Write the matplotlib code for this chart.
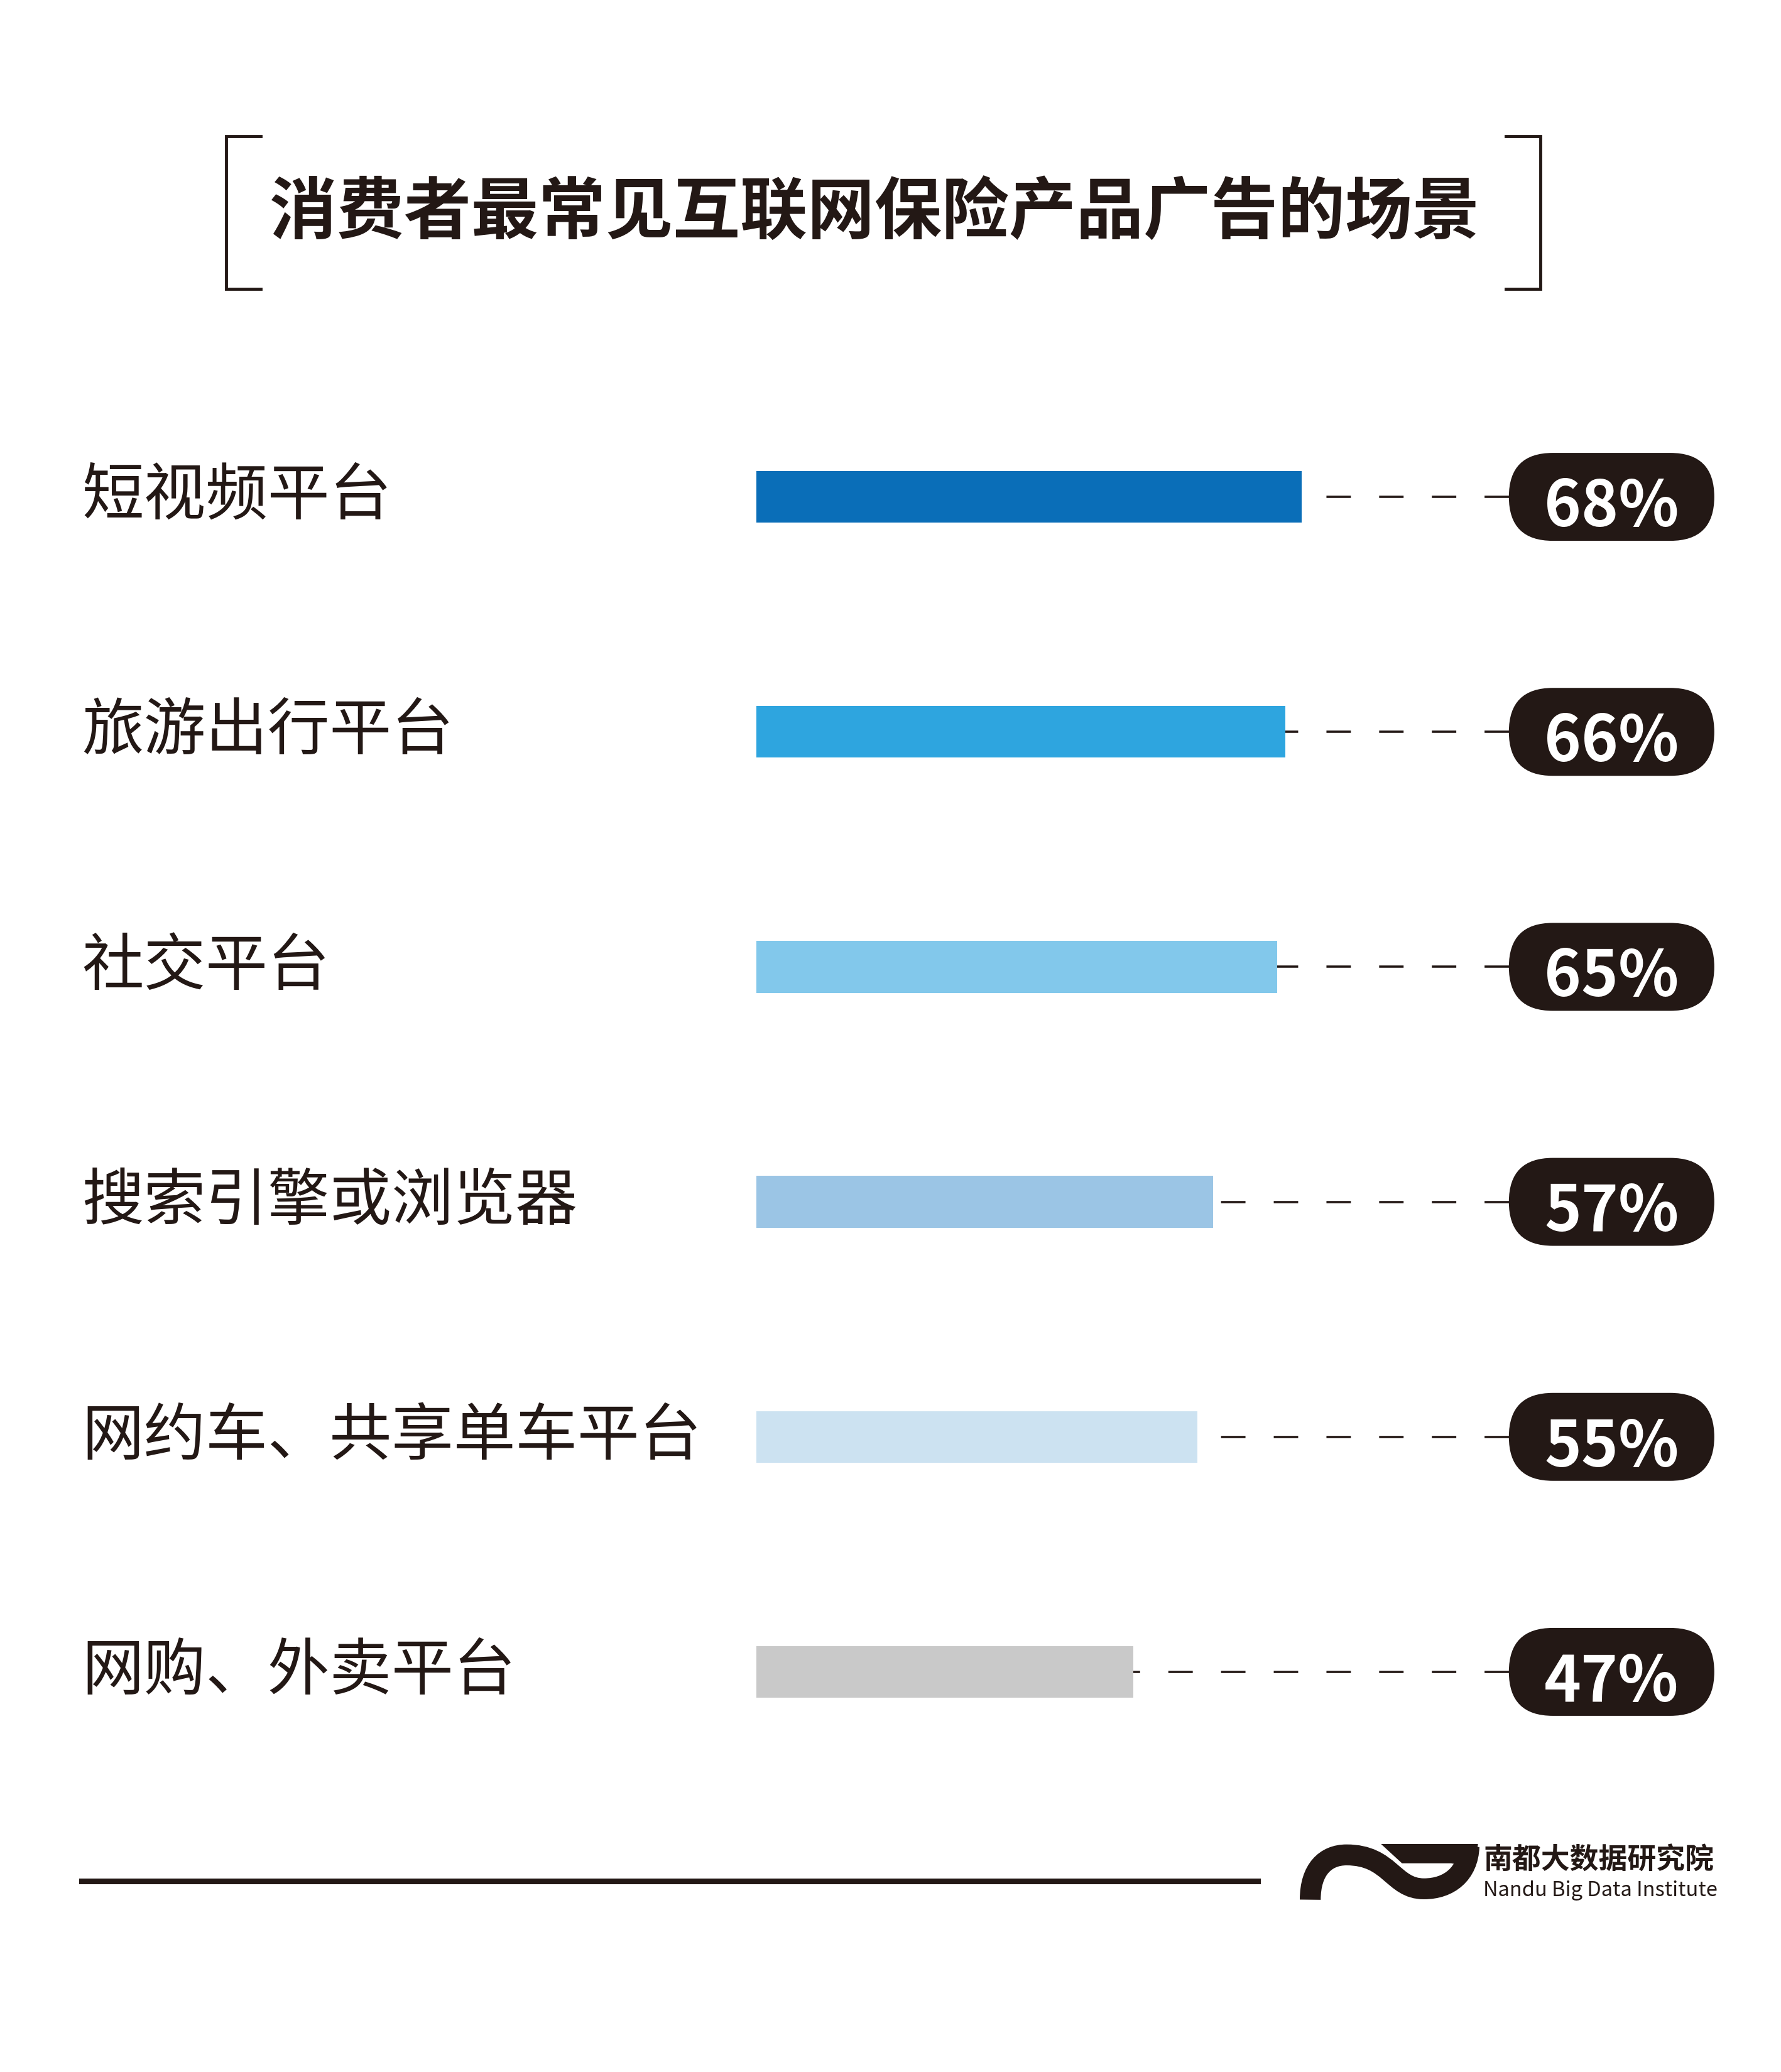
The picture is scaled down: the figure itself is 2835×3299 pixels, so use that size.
#!/usr/bin/env python3

import matplotlib
matplotlib.use("Agg")
import matplotlib.pyplot as plt
from matplotlib.patches import FancyBboxPatch, Polygon, PathPatch
from matplotlib.path import Path
from matplotlib.lines import Line2D
from matplotlib.transforms import blended_transform_factory

# canvas in pixels
W, H = 2835, 3299
DPI = 100

INK = "#231815"
CJK = ["Noto Sans CJK SC", "DejaVu Sans"]

title = "消费者最常见互联网保险产品广告的场景"
categories = [
    "短视频平台",
    "旅游出行平台",
    "社交平台",
    "搜索引擎或浏览器",
    "网约车、共享单车平台",
    "网购、外卖平台",
]
values = [68, 66, 65, 57, 55, 47]
value_labels = [f"{v}%" for v in values]
bar_colors = ["#0A6EB8", "#2EA5DF", "#82C8EB", "#9BC5E5", "#CCE2F1", "#C9C9C9"]

logo_cn = "南都大数据研究院"
logo_en = "Nandu Big Data Institute"

plt.rcParams["font.family"] = CJK
plt.rcParams["lines.scale_dashes"] = False


def fx(px):
    return px / W


def fy(py):
    return 1 - py / H


def draw_logo(fig):
    # small axes in the same 3:1 grid I sketched the mark on
    lax = fig.add_axes([fx(2060), fy(3040), 300 / W, 120 / H])
    lax.set_xlim(0, 900)
    lax.set_ylim(360, 0)
    lax.axis("off")

    wedge = Polygon([(415, 48), (878, 48), (862, 160), (750, 140), (515, 140)],
                    closed=True, facecolor=INK, edgecolor="none")
    lax.add_patch(wedge)

    verts = [(77, 314), (77, 170), (150, 100), (250, 100),
             (460, 100), (470, 262), (620, 262),
             (740, 262), (830, 190), (835, 60)]
    codes = [Path.MOVETO] + [Path.CURVE4] * 9
    # white halo on the left part to cut the gap against the wedge
    halo = Path(verts[:7], codes[:7])
    lax.add_patch(PathPatch(halo, facecolor="none", edgecolor="white",
                            lw=28, capstyle="butt"))
    band = Path(verts, codes)
    lax.add_patch(PathPatch(band, facecolor="none", edgecolor=INK,
                            lw=24, capstyle="butt"))

    fig.text(fx(2361), fy(2963), logo_cn, ha="left", va="center",
             fontsize=33, fontweight="bold", color=INK)
    fig.text(fx(2361), fy(3010), logo_en, ha="left", va="center",
             fontsize=23.5, color=INK)


def main():
    fig = plt.figure(figsize=(W / DPI, H / DPI), dpi=DPI)
    fig.patch.set_facecolor("white")

    # title with bracket frame
    fig.text(fx(1392), fy(341), title, ha="center", va="center",
             fontsize=77, fontweight="heavy", color=INK)
    for xv, xt in [(360, 415), (2452, 2397)]:
        fig.add_artist(Line2D([fx(xt), fx(xv), fx(xv), fx(xt)],
                              [fy(217), fy(217), fy(460), fy(460)],
                              transform=fig.transFigure, color=INK, lw=3.5,
                              solid_joinstyle="miter"))

    # bars
    n = len(categories)
    ax = fig.add_axes([fx(1204), fy(2849), 1531 / W, 2245 / H])
    ax.set_xlim(0, 120)
    ax.set_ylim(n - 0.5, -0.5)
    ax.axis("off")

    ypos = list(range(n))
    ax.barh(ypos, values, height=0.22, color=bar_colors, zorder=3)

    px_x = ax.bbox.width / 120
    px_y = ax.bbox.height / n
    pill_w, pill_h = 327 / px_x, 140 / px_y
    pill_cx = 106.7
    pill_left = pill_cx - pill_w / 2

    to_lab = blended_transform_factory(fig.transFigure, ax.transData)
    for i, (cat, v, lab) in enumerate(zip(categories, values, value_labels)):
        ax.plot([pill_left, v], [i, i], color=INK, lw=2.6,
                dashes=(28, 32.4), dash_capstyle="butt", zorder=2)
        r = pill_h / 2
        pill = FancyBboxPatch((pill_left, i - pill_h / 2), pill_w, pill_h,
                              boxstyle=f"round,pad=0,rounding_size={r * px_y / px_x}",
                              mutation_aspect=px_x / px_y,
                              facecolor=INK, edgecolor="none", zorder=4,
                              clip_on=False)
        ax.add_patch(pill)
        ax.text(pill_cx, i + 0.125, lab, ha="center", va="baseline",
                fontsize=72, fontweight="bold", color="white", zorder=5)
        ax.text(fx(130), i, cat, transform=to_lab, ha="left", va="center",
                fontsize=71, color=INK)

    # bottom rule
    fig.add_artist(Line2D([fx(130), fx(2002)], [fy(2995), fy(2995)],
                          transform=fig.transFigure, color=INK, lw=6.5))

    draw_logo(fig)

    fig.savefig("out.png", dpi=DPI, facecolor="white")


if __name__ == "__main__":
    main()
